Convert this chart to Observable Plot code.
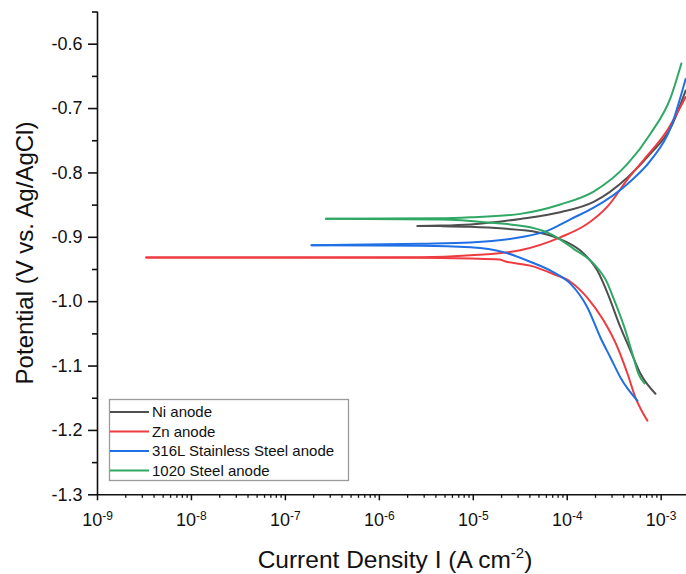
<!DOCTYPE html>
<html>
<head>
<meta charset="utf-8">
<script src="https://cdn.jsdelivr.net/npm/d3@7"></script>
<script src="https://cdn.jsdelivr.net/npm/@observablehq/plot@0.6"></script>
<style>
  html, body { margin: 0; padding: 0; background: #fff; }
  #chart { width: 686px; height: 574px; }
</style>
</head>
<body>
<div id="chart"></div>
<script>
// ---- Data ----
const seriesNames = ["Ni anode", "Zn anode", "316L Stainless Steel anode", "1020 Steel anode"];
const seriesColors = ["#4f4f4f", "#ee3b40", "#1f6fe5", "#2fa865"];

// [current density (A cm^-2), potential (V vs Ag/AgCl)], from Ecorr outward
const niCathodic = [[2.55e-6,-0.8823],[4.5e-6,-0.8826],[9.35e-6,-0.8836],[2.1e-5,-0.8865],[4.8e-5,-0.892],[9.1e-5,-0.905],[1.49e-4,-0.925],[2.1e-4,-0.952],[2.69e-4,-0.987],[3.69e-4,-1.040],[4.71e-4,-1.076],[6.03e-4,-1.112],[8.69e-4,-1.143]];
const niAnodic = [[2.55e-6,-0.8823],[4.5e-6,-0.8818],[9.35e-6,-0.880],[3.16e-5,-0.8714],[8.43e-5,-0.861],[1.91e-4,-0.845],[4.38e-4,-0.807],[7.69e-4,-0.770],[1.26e-3,-0.730],[1.82e-3,-0.672]];

const znCathodic = [[3.3e-9,-0.9315],[2.75e-6,-0.9316],[9.35e-6,-0.933],[1.9e-5,-0.9345],[2.2e-5,-0.9375],[4.04e-5,-0.944],[7.1e-5,-0.957],[1.08e-4,-0.969],[1.64e-4,-0.994],[2.43e-4,-1.029],[3.43e-4,-1.071],[4.38e-4,-1.112],[5.33e-4,-1.149],[7.14e-4,-1.185]];
const znAnodic = [[3.3e-9,-0.9315],[2.75e-6,-0.931],[9.35e-6,-0.928],[3.16e-5,-0.920],[8.43e-5,-0.900],[1.64e-4,-0.879],[2.69e-4,-0.852],[4.38e-4,-0.810],[6.49e-4,-0.780],[1.17e-3,-0.733],[1.82e-3,-0.682]];

const ssCathodic = [[1.9e-7,-0.9124],[2.75e-6,-0.913],[9.35e-6,-0.9155],[2.1e-5,-0.923],[4.04e-5,-0.938],[7.1e-5,-0.954],[1.08e-4,-0.972],[1.64e-4,-1.009],[2.26e-4,-1.056],[2.89e-4,-1.087],[3.69e-4,-1.118],[5.6e-4,-1.154]];
const ssAnodic = [[1.9e-7,-0.9124],[2.75e-6,-0.910],[9.35e-6,-0.908],[3.16e-5,-0.900],[6.12e-5,-0.890],[1.08e-4,-0.872],[1.91e-4,-0.854],[4.38e-4,-0.817],[7.69e-4,-0.781],[1.26e-3,-0.730],[1.82e-3,-0.654]];

const stCathodic = [[2.7e-7,-0.871],[4.5e-6,-0.8725],[1.42e-5,-0.877],[4.04e-5,-0.8845],[7.1e-5,-0.897],[1.17e-4,-0.918],[1.91e-4,-0.941],[2.69e-4,-0.972],[2.96e-4,-0.987],[4.06e-4,-1.040],[4.94e-4,-1.081],[5.73e-4,-1.112],[6.64e-4,-1.127]];
const stAnodic = [[2.7e-7,-0.871],[4.5e-6,-0.8705],[9.35e-6,-0.869],[3.16e-5,-0.8636],[8.43e-5,-0.849],[1.91e-4,-0.829],[4.38e-4,-0.786],[7.69e-4,-0.739],[1.26e-3,-0.683],[1.64e-3,-0.630]];

const xMajorTicks = [1e-9, 1e-8, 1e-7, 1e-6, 1e-5, 1e-4, 1e-3];
const yMajorTicks = [-1.3, -1.2, -1.1, -1.0, -0.9, -0.8, -0.7, -0.6];
const yMinorTicks = [-1.25, -1.15, -1.05, -0.95, -0.85, -0.75, -0.65, -0.55];
const xDomain = [1e-9, 1.86e-3];
const yDomain = [-1.3, -0.55];

// ---- Build table ----
const branches = [
  [niCathodic, niAnodic], [znCathodic, znAnodic], [ssCathodic, ssAnodic], [stCathodic, stAnodic]
];
const rows = [];
branches.forEach((pair, i) => {
  pair.forEach((arr, b) => {
    arr.forEach(([I, E]) => rows.push({series: seriesNames[i], key: seriesNames[i] + "-" + b, I, E}));
  });
});
const xMinorTicks = [];
xMajorTicks.slice(0, -1).forEach(d => { for (let k = 2; k <= 9; k++) xMinorTicks.push(d * k); });

const font = "'Liberation Sans', Arial, Helvetica, sans-serif";

const svg = Plot.plot({
  width: 686,
  height: 574,
  marginLeft: 97,
  marginRight: 0,
  marginTop: 11.5,
  marginBottom: 79.7,
  style: {fontFamily: font, fontSize: "18px", color: "#111", background: "#fff", overflow: "visible"},
  x: {type: "log", domain: xDomain},
  y: {domain: yDomain},
  color: {domain: seriesNames, range: seriesColors},
  marks: [
    Plot.line(rows, {x: "I", y: "E", z: "key", stroke: "series", strokeWidth: 2, curve: "monotone-x"}),
    Plot.ruleX([xDomain[0]], {stroke: "#111", strokeWidth: 1.6}),
    Plot.ruleY([yDomain[0]], {stroke: "#111", strokeWidth: 1.6}),
    Plot.axisY({ticks: yMajorTicks, tickSize: 9, tickPadding: 6, tickFormat: d => d.toFixed(1), strokeWidth: 1.6, label: null, fontSize: 18}),
    Plot.axisY({ticks: yMinorTicks, tickSize: 5, tickFormat: () => "", strokeWidth: 1.6, label: null}),
    Plot.axisX({ticks: xMajorTicks, tickSize: 6, tickPadding: 12, tickFormat: d => "10^" + Math.round(Math.log10(d)), strokeWidth: 1.5, label: null, fontSize: 18}),
    Plot.axisX({ticks: xMinorTicks, tickSize: 3.5, tickFormat: () => "", strokeWidth: 1.3, label: null})
  ]
});

const s = d3.select(svg);
// superscript exponents on x tick labels
s.selectAll('g[aria-label="x-axis tick label"] text').each(function() {
  const t = this.textContent;
  const m = t.match(/^10\^(-?\d+)$/);
  if (!m) return;
  const sel = d3.select(this);
  sel.text(null);
  sel.append("tspan").text("10");
  sel.append("tspan").attr("dy", "-0.5em").attr("font-size", "12px").text(m[1]);
});

// axis titles
s.append("text")
  .attr("transform", "rotate(-90)")
  .attr("x", -253).attr("y", 33)
  .attr("text-anchor", "middle")
  .attr("font-family", font).attr("font-size", 24).attr("fill", "#111")
  .text("Potential (V vs. Ag/AgCl)");

const xt = s.append("text")
  .attr("x", 395).attr("y", 568)
  .attr("text-anchor", "middle")
  .attr("font-family", font).attr("font-size", 24.5).attr("fill", "#111");
xt.append("tspan").text("Current Density I (A cm");
xt.append("tspan").attr("dy", -10).attr("font-size", 15).text("-2");
xt.append("tspan").attr("dy", 10).text(")");

// legend
const lg = s.append("g").attr("font-family", font).attr("font-size", 15).attr("fill", "#111")
  .attr("text-anchor", "start");
lg.append("rect").attr("x", 109.5).attr("y", 399.5).attr("width", 239).attr("height", 81)
  .attr("fill", "#fff").attr("stroke", "#9a9a9a").attr("stroke-width", 1.3);
const rowY = [412, 431.5, 451, 470.5];
seriesNames.forEach((name, i) => {
  lg.append("line").attr("x1", 110).attr("x2", 149).attr("y1", rowY[i]).attr("y2", rowY[i])
    .attr("stroke", seriesColors[i]).attr("stroke-width", 2);
  lg.append("text").attr("x", 152).attr("y", rowY[i]).attr("dy", "0.36em")
    .attr("text-anchor", "start").text(name);
});

document.getElementById("chart").appendChild(svg);
</script>
</body>
</html>
